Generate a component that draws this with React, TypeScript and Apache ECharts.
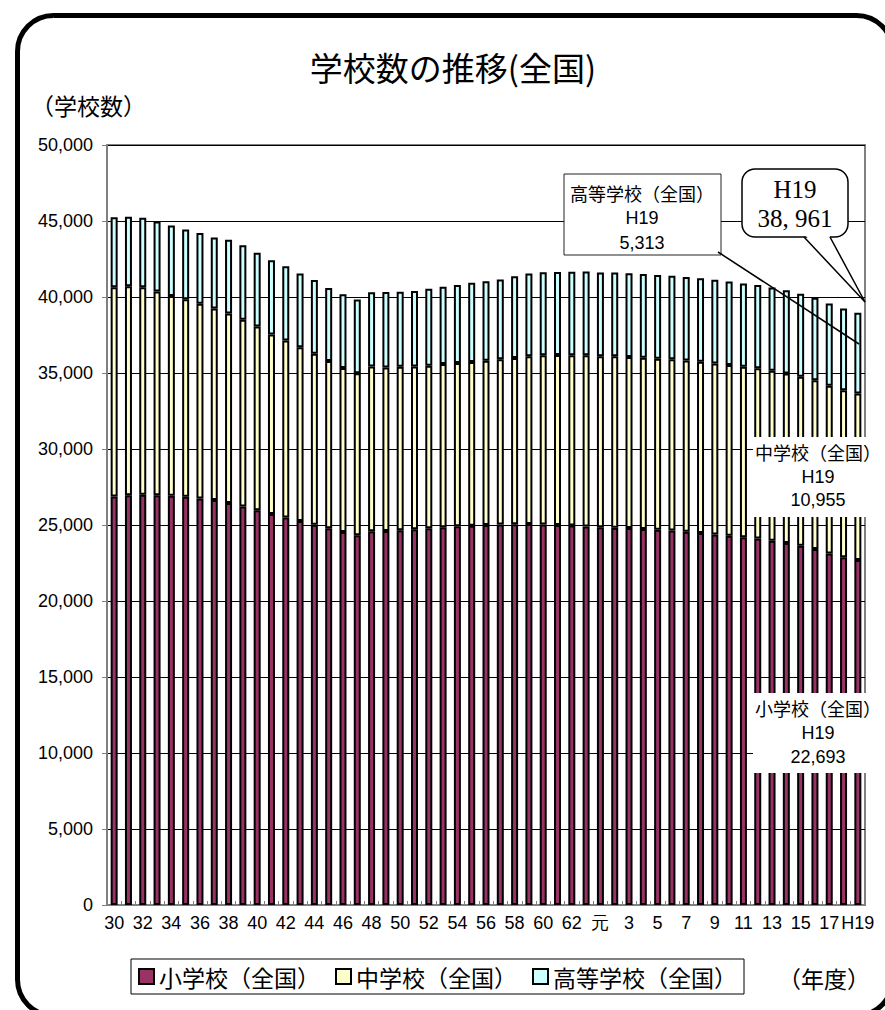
import React, { useEffect, useRef } from 'react';
import * as echarts from 'echarts';

const categories: string[] = [
  '30', '31', '32', '33', '34', '35', '36', '37', '38', '39',
  '40', '41', '42', '43', '44', '45', '46', '47', '48', '49',
  '50', '51', '52', '53', '54', '55', '56', '57', '58', '59',
  '60', '61', '62', '63', '元', '2', '3', '4', '5', '6',
  '7', '8', '9', '10', '11', '12', '13', '14', '15', '16',
  '17', '18', 'H19',
];

const elementary: number[] = [
  26880, 26950, 26990, 26950, 26920, 26858, 26750, 26640, 26450, 26210,
  25977, 25720, 25500, 25260, 25020, 24790, 24540, 24320, 24590, 24600,
  24652, 24720, 24780, 24860, 24910, 24945, 25000, 25040, 25050, 25060,
  25040, 25000, 24960, 24900, 24850, 24827, 24800, 24730, 24680, 24630,
  24548, 24480, 24380, 24300, 24190, 24106, 23960, 23810, 23630, 23420,
  23123, 22880, 22693,
];

const juniorHigh: number[] = [
  13767, 13750, 13650, 13420, 13140, 12986, 12810, 12610, 12470, 12300,
  12079, 11810, 11630, 11430, 11250, 11000, 10790, 10660, 10830, 10770,
  10751, 10700, 10700, 10730, 10750, 10780, 10810, 10870, 10940, 11040,
  11131, 11190, 11200, 11260, 11260, 11275, 11260, 11270, 11260, 11270,
  11274, 11260, 11250, 11230, 11220, 11209, 11190, 11160, 11130, 11100,
  11035, 10990, 10955,
];

const highSchool: number[] = [
  4607, 4580, 4580, 4600, 4650, 4598, 4650, 4670, 4850, 4890,
  4849, 4890, 4890, 4850, 4850, 4800, 4850, 4850, 4890, 4960,
  4946, 4980, 5070, 5090, 5130, 5208, 5220, 5240, 5370, 5440,
  5453, 5460, 5500, 5510, 5510, 5506, 5510, 5520, 5510, 5500,
  5501, 5500, 5500, 5490, 5480, 5478, 5470, 5470, 5450, 5430,
  5418, 5380, 5313,
];

const seriesNames: string[] = ['小学校（全国）', '中学校（全国）', '高等学校（全国）'];
const seriesColors: string[] = ['#993366', '#FFFFCC', '#CCFFFF'];

const JP = '"Noto Sans CJK JP", sans-serif';
const NUM = '"Liberation Sans", Arial, sans-serif';
const SERIF = '"Liberation Serif", "DejaVu Serif", serif';

const fmt = (v: number) => v.toLocaleString('en-US');

export default function App() {
  const ref = useRef<HTMLDivElement>(null);

  useEffect(() => {
    if (!ref.current) return;
    const chart = echarts.init(ref.current, undefined, { renderer: 'svg' });
    const last = categories.length - 1;
    const lastLabel = categories[last];
    const total = elementary[last] + juniorHigh[last] + highSchool[last];
    const totalText = fmt(total).replace(',', ', ');

    const dataSets = [elementary, juniorHigh, highSchool];

    const labelBox = (x: number, y: number, w: number, h: number, lines: string[], border: boolean, lineYs: number[], cx: number) => [
      {
        type: 'rect',
        z: 100,
        shape: { x, y, width: w, height: h },
        style: { fill: '#fff', stroke: border ? '#222' : null, lineWidth: border ? 1 : 0 },
      },
      ...lines.map((t, i) => ({
        type: 'text',
        z: 101,
        x: cx,
        y: lineYs[i],
        style: {
          text: t,
          fill: '#000',
          font: `18px ${i === 0 ? JP : NUM}`,
          textAlign: 'center',
          textVerticalAlign: 'middle',
        },
      })),
    ];

    const option: any = {
      animation: false,
      backgroundColor: 'transparent',
      grid: {
        left: 107,
        right: 20,
        top: 145,
        bottom: 105,
        show: true,
        borderColor: '#808080',
        borderWidth: 2,
        backgroundColor: 'transparent',
      },
      legend: {
        data: seriesNames,
        left: 131,
        top: 959,
        orient: 'horizontal',
        padding: [6, 7],
        borderColor: '#000',
        borderWidth: 1,
        itemWidth: 15,
        itemHeight: 15,
        itemGap: 15,
        icon: 'rect',
        itemStyle: { borderColor: '#000', borderWidth: 2 },
        textStyle: { fontSize: 23, fontFamily: JP, color: '#000' },
      },
      xAxis: {
        type: 'category',
        data: categories,
        boundaryGap: true,
        axisLine: { show: true, lineStyle: { color: '#808080', width: 2 } },
        axisTick: { show: true, inside: true, length: 4, interval: 0, lineStyle: { color: '#808080' } },
        axisLabel: {
          interval: 1,
          margin: 9,
          fontSize: 18,
          fontFamily: NUM,
          color: '#000',
        },
        splitLine: { show: false },
      },
      yAxis: {
        type: 'value',
        min: 0,
        max: 50000,
        interval: 5000,
        axisLine: { show: true, lineStyle: { color: '#808080', width: 2 } },
        axisTick: { show: true, inside: false, length: 5, lineStyle: { color: '#808080' } },
        axisLabel: {
          margin: 14,
          fontSize: 18,
          fontFamily: NUM,
          color: '#000',
          formatter: (v: number) => fmt(v),
        },
        splitLine: { show: true, lineStyle: { color: '#000', width: 1 } },
      },
      series: seriesNames.map((name, i) => ({
        name,
        type: 'bar',
        stack: 'total',
        barWidth: 7,
        data: dataSets[i],
        itemStyle: { color: seriesColors[i], borderColor: '#000', borderWidth: 2 },
        emphasis: { disabled: true },
      })),
      graphic: [
        {
          type: 'rect',
          z: 0,
          silent: true,
          shape: { x: 17.5, y: 15.5, width: 875, height: 1000, r: 36 },
          style: { fill: 'none', stroke: '#000', lineWidth: 5 },
        },
        {
          type: 'text',
          x: 453,
          y: 67,
          style: {
            text: '学校数の推移(全国)',
            font: `33px ${JP}`,
            fill: '#000',
            textAlign: 'center',
            textVerticalAlign: 'middle',
          },
        },
        {
          type: 'text',
          x: 31,
          y: 105,
          style: {
            text: '（学校数）',
            font: `23px ${JP}`,
            fill: '#000',
            textAlign: 'left',
            textVerticalAlign: 'middle',
          },
        },
        {
          type: 'text',
          x: 870,
          y: 978,
          style: {
            text: '（年度）',
            font: `23px ${JP}`,
            fill: '#000',
            textAlign: 'right',
            textVerticalAlign: 'middle',
          },
        },
        // high school annotation
        ...labelBox(564, 174, 157, 81, ['高等学校（全国）', lastLabel, fmt(highSchool[last])], true, [193, 218, 243], 642),
        {
          type: 'line',
          z: 100,
          shape: { x1: 718, y1: 252, x2: 859, y2: 344 },
          style: { stroke: '#000', lineWidth: 1.5 },
        },
        // junior high annotation
        ...labelBox(753, 437, 132, 80, ['中学校（全国）', lastLabel, fmt(juniorHigh[last])], false, [452, 477, 500], 818),
        // elementary annotation
        ...labelBox(753, 693, 132, 80, ['小学校（全国）', lastLabel, fmt(elementary[last])], false, [708, 733, 757], 818),
        // total bubble
        {
          type: 'rect',
          z: 100,
          shape: { x: 742, y: 169, width: 106, height: 68, r: 13 },
          style: { fill: '#fff', stroke: '#000', lineWidth: 1.5 },
        },
        {
          type: 'polygon',
          z: 101,
          shape: { points: [[805, 235], [865, 301], [829, 235]] },
          style: { fill: '#fff', stroke: null },
        },
        {
          type: 'polyline',
          z: 102,
          shape: { points: [[804, 237], [865, 302], [830, 237]] },
          style: { fill: 'none', stroke: '#000', lineWidth: 1.5 },
        },
        {
          type: 'text',
          z: 103,
          x: 795,
          y: 189,
          style: { text: lastLabel, font: `25px ${SERIF}`, fill: '#000', textAlign: 'center', textVerticalAlign: 'middle' },
        },
        {
          type: 'text',
          z: 103,
          x: 795,
          y: 218,
          style: { text: totalText, font: `25px ${SERIF}`, fill: '#000', textAlign: 'center', textVerticalAlign: 'middle' },
        },
      ],
    };

    chart.setOption(option);
    return () => chart.dispose();
  }, []);

  return (
    <div
      ref={ref}
      style={{ position: 'absolute', left: 0, top: 0, width: 885, height: 1010, background: '#fff' }}
    />
  );
}
